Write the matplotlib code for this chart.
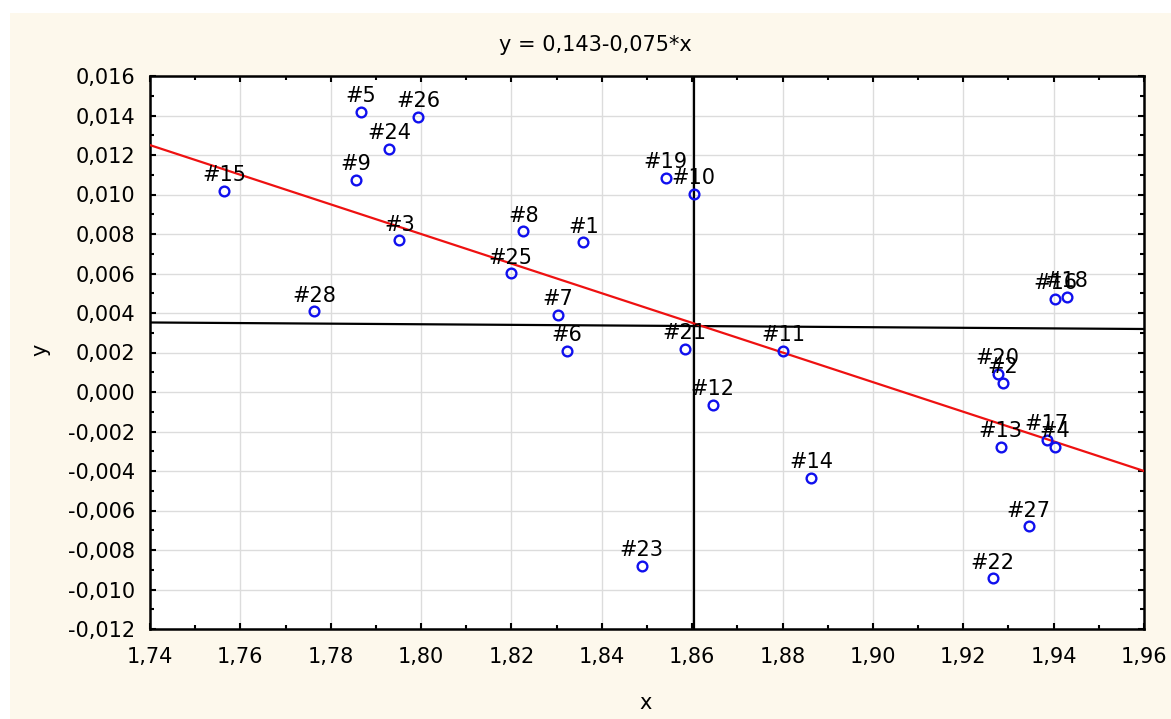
import matplotlib
matplotlib.use("Agg")
import matplotlib.pyplot as plt
from matplotlib.patches import Rectangle
from matplotlib.ticker import MultipleLocator, FuncFormatter

# ---- data ----
labels = ["#1", "#2", "#3", "#4", "#5", "#6", "#7", "#8", "#9", "#10",
          "#11", "#12", "#13", "#14", "#15", "#16", "#17", "#18", "#19", "#20",
          "#21", "#22", "#23", "#24", "#25", "#26", "#27", "#28"]
x_vals = [1.8359, 1.9287, 1.7952, 1.9403, 1.7867, 1.8322, 1.8302, 1.8226, 1.7856, 1.8603,
          1.8802, 1.8645, 1.9283, 1.8864, 1.7564, 1.9403, 1.9385, 1.9429, 1.8541, 1.9276,
          1.8583, 1.9265, 1.8488, 1.7929, 1.8198, 1.7994, 1.9345, 1.7763]
y_vals = [0.00757, 0.00046, 0.00768, -0.00277, 0.01418, 0.00208, 0.00389, 0.00813, 0.01075, 0.01005,
          0.00208, -0.00065, -0.00277, -0.00433, 0.01020, 0.00470, -0.00241, 0.00480, 0.01085, 0.00091,
          0.00218, -0.00943, -0.00882, 0.01232, 0.00601, 0.01393, -0.00680, 0.00409]

# regression y = a + b*x
coef_a = 0.143
coef_b = -0.075
title_text = "y = 0,143-0,075*x"

# reference lines (vertical at mean x, near-horizontal line)
vline_x = 1.8603
hline_x = [1.74, 1.96]
hline_y = [0.00352, 0.00319]

x_range = [1.74, 1.96]
y_range = [-0.012, 0.016]

# ---- figure ----
W, H = 1171, 719
fig = plt.figure(figsize=(W / 100, H / 100), dpi=100, facecolor="white")
plt.rcParams["font.family"] = ["DejaVu Sans"]
cream = "#FDF8EC"
bg = Rectangle((10 / W, 0), 1 - 10 / W, 1 - 13 / H, transform=fig.transFigure,
               facecolor=cream, edgecolor="none", zorder=-10)
fig.patches.append(bg)

left, right, top, bottom = 150 / W, 1144 / W, 1 - 76 / H, 1 - 629 / H
ax = fig.add_axes([left, bottom, right - left, top - bottom])
ax.set_zorder(1)
ax.set_facecolor("white")

ax.set_xlim(*x_range)
ax.set_ylim(*y_range)

ax.xaxis.set_major_locator(MultipleLocator(0.02))
ax.xaxis.set_minor_locator(MultipleLocator(0.01))
ax.yaxis.set_major_locator(MultipleLocator(0.002))
ax.yaxis.set_minor_locator(MultipleLocator(0.001))
ax.xaxis.set_major_formatter(FuncFormatter(lambda v, p: f"{v:.2f}".replace(".", ",")))
ax.yaxis.set_major_formatter(FuncFormatter(lambda v, p: ("%.3f" % (0.0 if abs(v) < 1e-12 else v)).replace(".", ",")))

ax.grid(True, which="major", color="#DCDCDC", lw=1.0, zorder=0)
ax.set_axisbelow(True)

ax.tick_params(which="both", direction="in", top=True, right=True, width=1.5, colors="black",
               labelsize=15)
ax.tick_params(which="major", length=4)
ax.tick_params(which="minor", length=3)
ax.tick_params(axis="y", which="major", pad=10.5)
ax.tick_params(axis="x", which="major", pad=13)
for s in ax.spines.values():
    s.set_linewidth(1.8)
    s.set_color("black")

# crosshair lines
ax.axvline(vline_x, color="black", lw=1.6, zorder=2)
ax.plot(hline_x, hline_y, color="black", lw=1.6, zorder=2)

# regression line
ax.plot(x_range, [coef_a + coef_b * xv for xv in x_range], color="#EE1111", lw=1.6, zorder=3)

# points
ax.plot(x_vals, y_vals, linestyle="none", marker="o", markersize=7, markerfacecolor="none",
        markeredgecolor="#1010EE", markeredgewidth=1.7, zorder=4)
for lab, xv, yv in zip(labels, x_vals, y_vals):
    ax.annotate(lab, (xv, yv), xytext=(0, 7), textcoords="offset points",
                ha="center", va="baseline", fontsize=15, color="black", zorder=5)

fig.text(595 / W, 1 - 45 / H, title_text, ha="center", va="center", fontsize=15)
fig.text(646 / W, 1 - 703 / H, "x", ha="center", va="center", fontsize=15)
fig.text(40 / W, 1 - 350 / H, "y", ha="center", va="center", rotation=90, fontsize=15)

fig.savefig("out.png", dpi=100, facecolor="white")
